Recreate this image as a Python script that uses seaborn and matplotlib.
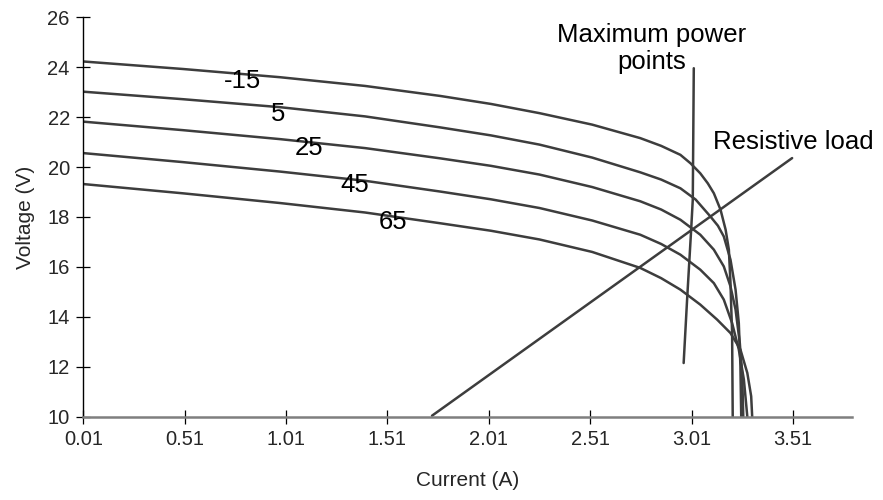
import numpy as np
import pandas as pd
import seaborn as sns
import matplotlib.pyplot as plt

# I-V curves of a PV panel at five cell temperatures (deg C)
temps = ['-15', '5', '25', '45', '65']

current_m15 = [0.01, 0.5, 0.98, 1.4, 1.77, 2.02, 2.26, 2.52, 2.757, 2.86, 2.955, 3.005, 3.053, 3.09, 3.12,
               3.153, 3.178, 3.194, 3.202, 3.206, 3.21, 3.213]
voltage_m15 = [24.23, 23.93, 23.6, 23.25, 22.85, 22.53, 22.16, 21.7, 21.16, 20.85, 20.49, 20.15, 19.75, 19.35, 18.95,
               18.29, 17.49, 16.69, 15.35, 14.3, 13.37, 10.0]

current_5 = [0.01, 0.5, 0.98, 1.4, 1.77, 2.02, 2.26, 2.52, 2.757, 2.86, 2.955, 3.03, 3.103, 3.14, 3.169,
             3.202, 3.227, 3.243, 3.251, 3.255]
voltage_5 = [23.02, 22.72, 22.4, 22.03, 21.59, 21.27, 20.9, 20.38, 19.79, 19.5, 19.15, 18.7, 18.02, 17.65, 17.22,
             16.29, 15.09, 13.75, 12.02, 10.0]

current_25 = [0.01, 0.5, 0.98, 1.4, 1.77, 2.02, 2.26, 2.52, 2.757, 2.86, 2.955, 3.053, 3.12, 3.169,
              3.202, 3.227, 3.248, 3.26, 3.265]
voltage_25 = [21.82, 21.48, 21.12, 20.76, 20.35, 20.05, 19.7, 19.2, 18.63, 18.3, 17.89, 17.29, 16.69, 16.02,
              15.22, 14.29, 12.95, 11.62, 10.0]

current_45 = [0.01, 0.5, 0.98, 1.4, 1.77, 2.02, 2.26, 2.52, 2.757, 2.86, 2.955, 3.053, 3.12, 3.169,
              3.21, 3.243, 3.268, 3.285]
voltage_45 = [20.56, 20.2, 19.82, 19.45, 19.02, 18.71, 18.36, 17.86, 17.29, 16.92, 16.49, 15.89, 15.35, 14.69,
              13.75, 12.69, 11.49, 10.0]

current_65 = [0.01, 0.5, 0.98, 1.4, 1.77, 2.02, 2.26, 2.52, 2.757, 2.86, 2.955, 3.053, 3.136, 3.202,
              3.251, 3.285, 3.304, 3.309]
voltage_65 = [19.32, 18.95, 18.56, 18.18, 17.75, 17.45, 17.1, 16.6, 15.96, 15.55, 15.09, 14.49, 13.89, 13.35,
              12.69, 11.75, 10.82, 10.0]

mpp_current = [3.021, 3.016, 3.008, 2.988, 2.971]
mpp_voltage = [23.96, 18.69, 17.49, 14.69, 12.15]

load_current = [1.73, 3.506]
load_voltage = [10.04, 20.36]

# where the temperature labels sit (Excel-style, on top of each curve)
label_current = [0.796, 0.969, 1.126, 1.351, 1.54]
label_voltage = [23.45, 22.13, 20.77, 19.29, 17.81]

x_ticks = [0.01, 0.51, 1.01, 1.51, 2.01, 2.51, 3.01, 3.51]
y_ticks = [10, 12, 14, 16, 18, 20, 22, 24, 26]

LINE = '#3d3d3d'

curves = pd.concat([
    pd.DataFrame({'current': c, 'voltage': v, 'temp': t})
    for t, c, v in zip(temps,
                       [current_m15, current_5, current_25, current_45, current_65],
                       [voltage_m15, voltage_5, voltage_25, voltage_45, voltage_65])
], ignore_index=True)

sns.set_theme(style='white')
plt.rcParams['font.family'] = ['Liberation Sans', 'DejaVu Sans']

fig, ax = plt.subplots(figsize=(8.83, 5), dpi=100)
fig.subplots_adjust(left=0.0943, right=0.9646, bottom=0.1666, top=0.9654)

sns.lineplot(data=curves, x='current', y='voltage', hue='temp', units='temp',
             estimator=None, sort=False, palette=[LINE] * 5, linewidth=1.8,
             legend=False, ax=ax)
sns.lineplot(x=mpp_current, y=mpp_voltage, sort=False, color=LINE, linewidth=1.8, ax=ax)
sns.lineplot(x=load_current, y=load_voltage, sort=False, color=LINE, linewidth=1.8, ax=ax)

for t, x, y in zip(temps, label_current, label_voltage):
    ax.text(x, y, t, fontsize=18.5, ha='center', va='center', color='black')

ax.text(2.815, 24.75, 'Maximum power\npoints', fontsize=18.5, ha='center', va='center',
        linespacing=1.15, color='black')
ax.text(3.51, 20.99, 'Resistive load', fontsize=18.5, ha='center', va='center', color='black')

ax.set_xlim(0.01, 3.80)
ax.set_ylim(10, 26)
ax.set_xticks(x_ticks)
ax.set_xticklabels([f'{v:.2f}' for v in x_ticks])
ax.set_yticks(y_ticks)
ax.tick_params(axis='both', direction='inout', length=9.4, width=0.9, color='black',
               labelsize=14.5, pad=5, left=True, bottom=True)

for side in ['top', 'right']:
    ax.spines[side].set_visible(False)
ax.spines['left'].set_color('black')
ax.spines['left'].set_linewidth(1.0)
ax.spines['bottom'].set_color('#7f7f7f')
ax.spines['bottom'].set_linewidth(1.8)

ax.set_xlabel('Current (A)', fontsize=15)
ax.set_ylabel('Voltage (V)', fontsize=15)
ax.xaxis.set_label_coords(0.5, -0.135)
ax.yaxis.set_label_coords(-0.063, 0.5)

fig.savefig('out.png', dpi=100)
